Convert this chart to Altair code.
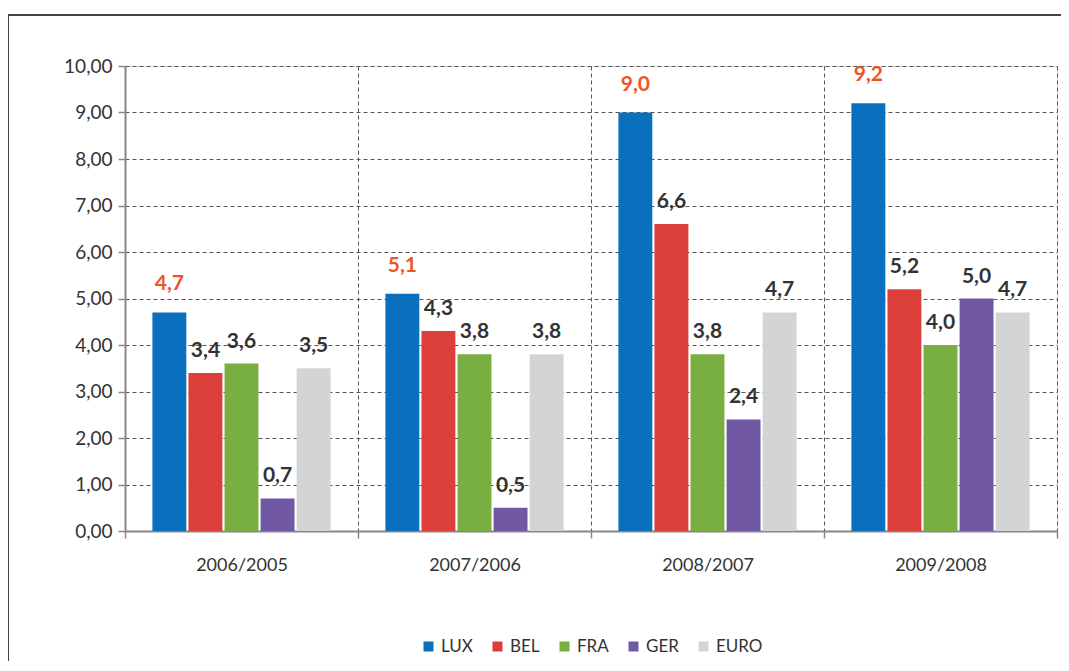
import altair as alt
import pandas as pd

periods = ["2006/2005", "2007/2006", "2008/2007", "2009/2008"]
series = ["LUX", "BEL", "FRA", "GER", "EURO"]
lux = [4.7, 5.1, 9.0, 9.2]
bel = [3.4, 4.3, 6.6, 5.2]
fra = [3.6, 3.8, 3.8, 4.0]
ger = [0.7, 0.5, 2.4, 5.0]
euro = [3.5, 3.8, 4.7, 4.7]
colors = ["#0A6FBD", "#DC3F3A", "#79AE41", "#7158A5", "#D3D4D6"]

rows = []
for s, vals in zip(series, [lux, bel, fra, ger, euro]):
    for p, v in zip(periods, vals):
        rows.append({"period": p, "series": s, "value": v,
                     "label": f"{v:.1f}".replace(".", ",")})
df = pd.DataFrame(rows)

FONT = "Lato"

base = alt.Chart(df).encode(
    x=alt.X("period:N", sort=periods, title=None,
            scale=alt.Scale(paddingInner=0, paddingOuter=0),
            axis=alt.Axis(tickBand="extent", grid=True, gridDash=[4, 3],
                          gridColor="#555", gridWidth=1, labelAngle=0,
                          labelFontSize=18, labelColor="#333", labelPadding=18,
                          labelFont=FONT, domainColor="#888", domainWidth=2,
                          tickColor="#888", tickSize=7, tickWidth=1.5)),
    xOffset=alt.XOffset("series:N", sort=series,
                        scale=alt.Scale(paddingInner=0.06, paddingOuter=0.76)),
)

bars = base.mark_bar().encode(
    y=alt.Y("value:Q", title=None,
            scale=alt.Scale(domain=[0, 10], nice=False),
            axis=alt.Axis(values=list(range(0, 11)), grid=True, gridDash=[4, 3],
                          gridColor="#555", gridWidth=1,
                          labelExpr="replace(format(datum.value, '.2f'), '.', ',')",
                          labelFontSize=19, labelColor="#333", labelFont=FONT,
                          labelPadding=6, domainColor="#888", domainWidth=2,
                          tickColor="#888", tickSize=7, tickWidth=1.5)),
    color=alt.Color("series:N", sort=series,
                    scale=alt.Scale(domain=series, range=colors),
                    legend=alt.Legend(title=None, orient="none", direction="horizontal",
                                      legendX=295, legendY=572, symbolType="square",
                                      symbolSize=100, symbolStrokeWidth=0,
                                      labelFontSize=17, labelFont=FONT,
                                      labelColor="#333", columnPadding=16,
                                      gridAlign="none")),
)

texts_other = base.mark_text(baseline="bottom", dy=-12, fontSize=21, fontWeight="bold",
                             font=FONT, color="#333333").encode(
    y=alt.Y("value:Q"),
    text="label:N",
).transform_filter(alt.datum.series != "LUX")

texts_lux = base.mark_text(baseline="bottom", dy=-18, fontSize=21, fontWeight="bold",
                           font=FONT, color="#EE5427").encode(
    y=alt.Y("value:Q"),
    text="label:N",
).transform_filter(alt.datum.series == "LUX")

frame = alt.Chart(pd.DataFrame({"a": [0]})).mark_rect(
    fill=None, stroke="#444", strokeWidth=2, clip=False).encode(
    x=alt.value(-117), x2=alt.value(960), y=alt.value(-51), y2=alt.value(620))

chart = alt.layer(frame, bars, texts_other, texts_lux).properties(
    width=932, height=465,
    padding={"left": 117, "top": 58, "right": 4, "bottom": 130},
    autosize=alt.AutoSizeParams(type="none"),
).configure_view(stroke="#777", strokeWidth=2).configure(font=FONT)

chart.save("out.html", embed_options={"renderer": "svg", "actions": False})
